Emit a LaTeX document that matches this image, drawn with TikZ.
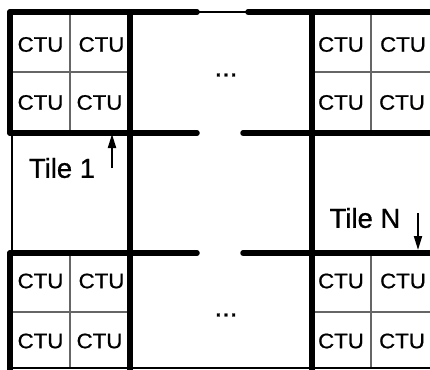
\documentclass[tikz,border=0pt]{standalone}
\usepackage{fontspec}
\setmainfont{Liberation Sans}
\newfontfamily\ctufont[FakeStretch=1.06,FakeBold=0.8]{Liberation Sans}
\newfontfamily\tilefont[FakeBold=0.8]{Liberation Sans}
\usetikzlibrary{arrows.meta}
\begin{document}
\begin{tikzpicture}[x=1pt,y=-1pt,
  thickline/.style={line width=5.5pt, line cap=round},
  thinline/.style={line width=1.6pt},
  gridline/.style={line width=1.6pt, draw=black!60},
  ctu/.style={font=\ctufont\fontsize{21}{22}\selectfont, inner sep=0pt},
  tilelabel/.style={font=\tilefont\fontsize{27.5}{28}\selectfont, inner sep=0pt},
  pointer/.style={line width=2pt, -{Triangle[length=14pt,width=8pt]}}]
\useasboundingbox (0,0) rectangle (430,369);
% inner CTU grid lines
\draw[gridline] (70,12) -- (70,133);
\draw[gridline] (70,253) -- (70,369);
\draw[gridline] (371,12) -- (371,133);
\draw[gridline] (371,253) -- (371,369);
\draw[gridline] (10,72) -- (130,72);
\draw[gridline] (312,72) -- (432,72);
\draw[gridline] (10,312) -- (130,312);
\draw[gridline] (312,312) -- (432,312);
\draw[thinline] (10,368) -- (432,368);
% tile boundaries
\draw[thinline] (197,12) -- (248,12);
\draw[thinline] (12,133) -- (12,253);
\draw[thickline] (10,12) -- (197,12);
\draw[thickline] (248,12) -- (434,12);
\draw[thickline] (10,133) -- (197,133);
\draw[thickline] (243,133) -- (434,133);
\draw[thickline] (10,253) -- (197,253);
\draw[thickline] (243,253) -- (434,253);
\draw[thickline] (130,12) -- (130,372);
\draw[thickline] (312,12) -- (312,372);
\draw[thickline] (10,12) -- (10,133);
\draw[thickline] (10,253) -- (10,372);
% CTU labels
\node[ctu] (c11) at (40.5,44.5) {CTU};
\node[ctu] (c12) at (101.5,44.5) {CTU};
\node[ctu] (c21) at (40.5,102.5) {CTU};
\node[ctu] (c22) at (99.5,102.5) {CTU};
\node[ctu] (c13) at (341,44.5) {CTU};
\node[ctu] (c14) at (403,44.5) {CTU};
\node[ctu] (c23) at (341,102.5) {CTU};
\node[ctu] (c24) at (402,102.5) {CTU};
\node[ctu] (c31) at (40.5,281) {CTU};
\node[ctu] (c32) at (101.5,281) {CTU};
\node[ctu] (c41) at (40.5,341) {CTU};
\node[ctu] (c42) at (99.5,341) {CTU};
\node[ctu] (c33) at (341,281) {CTU};
\node[ctu] (c34) at (403,281) {CTU};
\node[ctu] (c43) at (341,341) {CTU};
\node[ctu] (c44) at (402,341) {CTU};
% ellipses
\node[tilelabel] (dotsA) at (226,75) {...};
\node[tilelabel] (dotsB) at (226,315) {...};
% tile labels and pointers
\node[tilelabel] (tile1) at (62,168) {Tile 1};
\node[tilelabel] (tileN) at (365,218) {Tile N};
\coordinate (p1s) at (112,168);
\coordinate (p1e) at (112,134);
\coordinate (pNs) at (418,213);
\coordinate (pNe) at (418,250);
\draw[pointer] (p1s) -- (p1e);
\draw[pointer] (pNs) -- (pNe);
\end{tikzpicture}
\end{document}
